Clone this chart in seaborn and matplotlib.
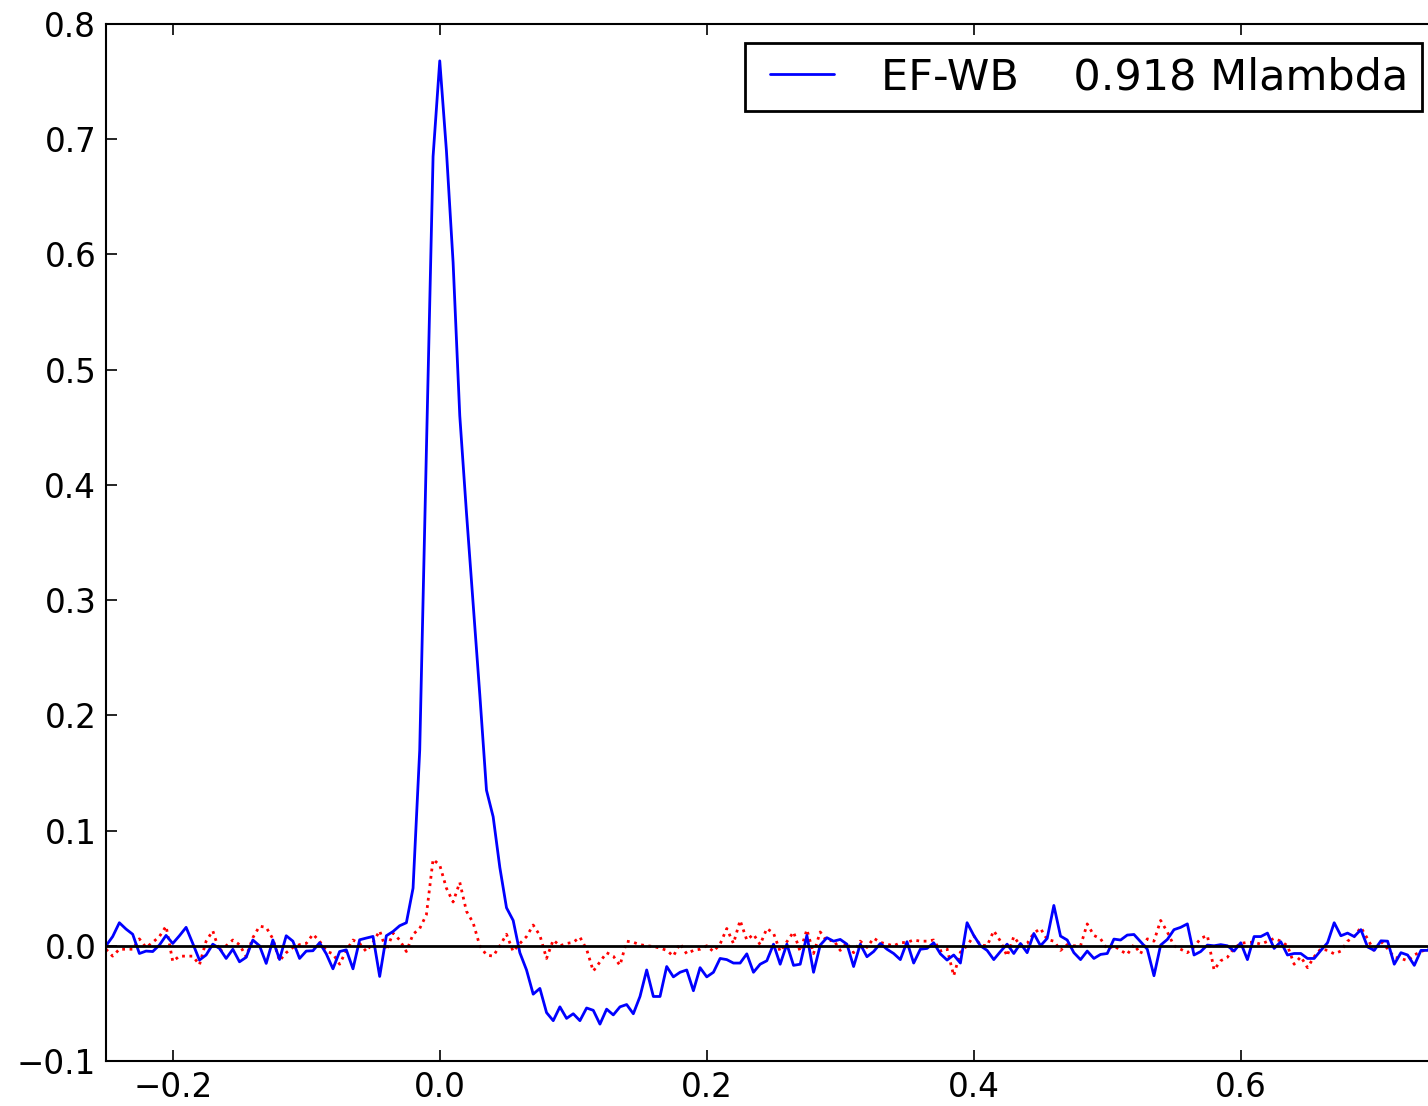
import numpy as np
import matplotlib
matplotlib.use("Agg")
import matplotlib.pyplot as plt
import seaborn as sns

# lag axis, 5 ms steps
lag = np.round(np.arange(-0.25, 0.7501, 0.005), 3)

# EF-WB correlation (blue, solid)
ef_wb = [
    0.000, 0.008, 0.020, 0.0145, 0.010, -0.0067, -0.0046, -0.005, 0.0006, 0.009,
    0.002, 0.0087, 0.016, 0.002, -0.0124, -0.008, 0.0014, -0.0023, -0.011, -0.003,
    -0.0139, -0.010, 0.005, 0.000, -0.0153, 0.005, -0.0119, 0.0087, 0.004, -0.011,
    -0.0046, -0.0043, 0.0026, -0.007, -0.020, -0.005, -0.0035, -0.020, 0.0052, 0.0067,
    0.0081, -0.0266, 0.0087, 0.0124, 0.0174, 0.020, 0.050, 0.17, 0.43, 0.685,
    0.768, 0.69, 0.593, 0.46, 0.376, 0.297, 0.218, 0.135, 0.112, 0.068,
    0.033, 0.022, -0.006, -0.021, -0.042, -0.037, -0.058, -0.065, -0.053, -0.063,
    -0.059, -0.065, -0.054, -0.056, -0.068, -0.055, -0.060, -0.053, -0.051, -0.059,
    -0.044, -0.021, -0.044, -0.044, -0.018, -0.027, -0.023, -0.021, -0.039, -0.019,
    -0.027, -0.023, -0.011, -0.012, -0.015, -0.015, -0.007, -0.023, -0.016, -0.013,
    0.0014, -0.016, 0.0014, -0.017, -0.016, 0.009, -0.023, 0.0006, 0.007, 0.004,
    0.0055, 0.0014, -0.018, 0.0014, -0.0095, -0.005, 0.002, -0.003, -0.0067, -0.012,
    0.0035, -0.015, -0.003, -0.0023, 0.0026, -0.007, -0.0124, -0.008, -0.015, 0.020,
    0.009, 0.000, -0.004, -0.012, -0.005, 0.0014, -0.0067, 0.002, -0.006, 0.0107,
    0.000, 0.0064, 0.035, 0.0084, 0.005, -0.006, -0.012, -0.0046, -0.011, -0.0075,
    -0.0067, 0.0058, 0.005, 0.0093, 0.0098, 0.0035, -0.003, -0.026, 0.0006, 0.0055,
    0.014, 0.016, 0.019, -0.008, -0.005, 0.0006, 0.000, 0.001, 0.000, -0.0046,
    0.0026, -0.012, 0.008, 0.008, 0.011, -0.0023, 0.0035, -0.008, -0.0067, -0.0067,
    -0.011, -0.011, -0.004, 0.0026, 0.020, 0.0087, 0.011, 0.008, 0.014, -0.001,
    -0.004, 0.0043, 0.004, -0.016, -0.006, -0.008, -0.017, -0.004, -0.004, 0.002,
    -0.003,
]

# reference / shuffled correlation (red, dotted)
shuffled = [
    -0.003, -0.009, -0.003, -0.003, -0.003, 0.006, -0.0015, 0.003, 0.008, 0.017,
    -0.0136, -0.009, -0.009, -0.009, -0.0165, 0.004, 0.013, -0.005, 0.000, 0.005,
    0.001, -0.0095, 0.007, 0.017, 0.016, 0.006, -0.013, -0.006, -0.0015, 0.001,
    0.002, 0.010, 0.004, -0.0046, -0.007, -0.016, -0.004, 0.005, 0.002, -0.005,
    0.003, 0.013, -0.004, 0.011, 0.005, -0.005, 0.010, 0.015, 0.027, 0.075,
    0.070, 0.050, 0.038, 0.055, 0.030, 0.020, 0.000, -0.008, -0.009, 0.000,
    0.010, -0.005, 0.002, 0.008, 0.018, 0.009, -0.011, 0.005, 0.000, 0.002,
    0.003, 0.0075, -0.003, -0.022, -0.014, -0.006, -0.009, -0.017, 0.004, 0.003,
    0.001, 0.000, -0.0006, -0.002, -0.004, -0.009, 0.002, -0.007, -0.004, -0.003,
    0.000, -0.005, 0.0015, 0.015, 0.002, 0.022, 0.005, 0.010, 0.001, 0.015,
    0.011, -0.005, 0.0035, 0.012, -0.005, 0.014, -0.0067, 0.012, 0.004, 0.005,
    -0.004, 0.0026, -0.006, 0.004, -0.0014, 0.0066, 0.003, 0.0014, 0.000, 0.0026,
    0.003, 0.005, 0.004, 0.004, 0.005, -0.0046, -0.0026, -0.026, -0.0055, 0.000,
    0.0087, 0.0006, 0.000, 0.013, 0.004, -0.009, 0.008, 0.000, 0.002, 0.011,
    0.015, 0.0055, 0.004, -0.004, 0.001, 0.000, 0.000, 0.019, 0.009, 0.006,
    -0.003, 0.000, -0.004, -0.0075, 0.001, -0.007, 0.006, 0.004, 0.022, 0.012,
    0.000, -0.003, -0.006, -0.001, 0.0064, 0.009, -0.021, -0.013, -0.010, -0.002,
    0.002, 0.003, 0.003, 0.0014, 0.0038, 0.0064, 0.004, 0.000, -0.016, -0.0095,
    -0.019, -0.0095, -0.0026, -0.004, -0.007, -0.0046, 0.004, 0.008, 0.016, 0.006,
    -0.0046, 0.0038, -0.0026, -0.010, -0.011, -0.013, -0.008, -0.005, -0.003, 0.002,
    0.001,
]

legend_label = "EF-WB    0.918 Mlambda"
x_ticks = [-0.2, 0.0, 0.2, 0.4, 0.6]
y_ticks = [-0.1, 0.0, 0.1, 0.2, 0.3, 0.4, 0.5, 0.6, 0.7, 0.8]

sns.set_style("ticks")
plt.rcParams.update({
    'font.family': ['DejaVu Sans'],
    'text.color': 'black',
    'xtick.direction': 'in',
    'ytick.direction': 'in',
    'xtick.top': True,
    'ytick.right': True,
    'xtick.major.size': 8,
    'ytick.major.size': 8,
    'xtick.major.width': 1.2,
    'ytick.major.width': 1.2,
    'axes.edgecolor': 'black',
    'axes.linewidth': 1.5,
})


def one_decimal(v, pos):
    s = f"{v:.1f}"
    if s == "-0.0":
        s = "0.0"
    return s.replace('-', '\u2212')


fig = plt.figure(figsize=(14.28, 11.06), dpi=100)
ax = fig.add_axes([106 / 1428, 45 / 1106, 1335 / 1428, 1037 / 1106])

sns.lineplot(x=lag, y=shuffled, ax=ax, color='red', linestyle=':', linewidth=2)
sns.lineplot(x=lag, y=ef_wb, ax=ax, color='blue', linewidth=2, label=legend_label)
ax.axhline(0, color='black', linewidth=2)

ax.set_xlim(-0.25, 0.75)
ax.set_ylim(-0.1, 0.8)
ax.set_xticks(x_ticks)
ax.set_yticks(y_ticks)
ax.xaxis.set_major_formatter(matplotlib.ticker.FuncFormatter(one_decimal))
ax.yaxis.set_major_formatter(matplotlib.ticker.FuncFormatter(one_decimal))
ax.tick_params(axis='both', labelsize=23.5, colors='black', pad=7)

# old-style legend: short inset handle line, tight square frame
leg = ax.legend(loc='upper right', fontsize=31, fancybox=False, frameon=True,
                labelcolor='black', numpoints=2, handlelength=2.07,
                handletextpad=0.81, borderpad=0.3, borderaxespad=0.45)
leg.get_frame().set_edgecolor('black')
leg.get_frame().set_linewidth(2)
leg.get_frame().set_alpha(1)

fig.savefig('out.png', dpi=100)
